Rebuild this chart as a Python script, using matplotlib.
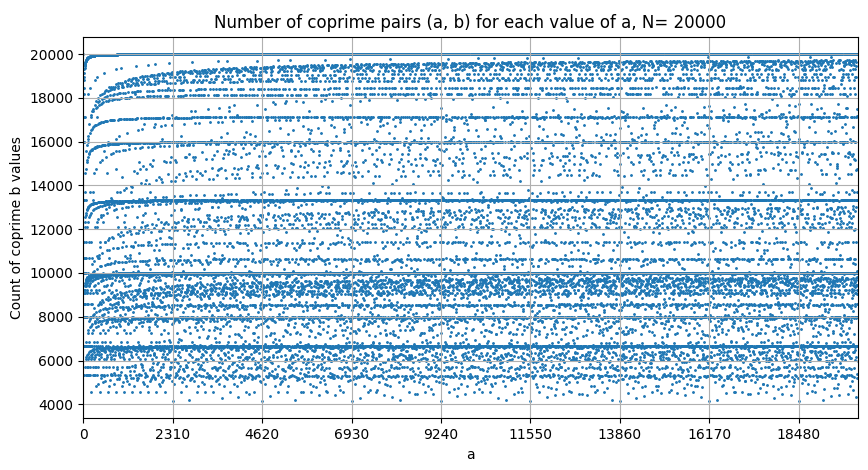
import numpy as np
import matplotlib
matplotlib.use("Agg")
import matplotlib.pyplot as plt

N = 20000
a_values = np.arange(1, N + 1)
b_values = np.arange(1, N + 1)
# count of b in 1..N coprime to a (computed from the chart's definition)
counts = np.array([np.count_nonzero(np.gcd(a, b_values) == 1) for a in a_values])
xtick_values = [0, 2310, 4620, 6930, 9240, 11550, 13860, 16170, 18480]
yticks = [4000, 6000, 8000, 10000, 12000, 14000, 16000, 18000, 20000]

fig = plt.figure(figsize=(8.68, 4.7), dpi=100)
ax = fig.add_axes([0.096, 0.11, 0.892, 0.812])
ax.scatter(a_values, counts, s=1.1, color="#1f77b4")
ax.set_xlim(0, N)
ax.set_xticks(xtick_values)
ax.set_yticks(yticks)
ax.grid(True)
ax.set_xlabel("a")
ax.set_ylabel("Count of coprime b values")
ax.set_title(f"Number of coprime pairs (a, b) for each value of a, N= {N}")
fig.savefig("out.png", dpi=100)
